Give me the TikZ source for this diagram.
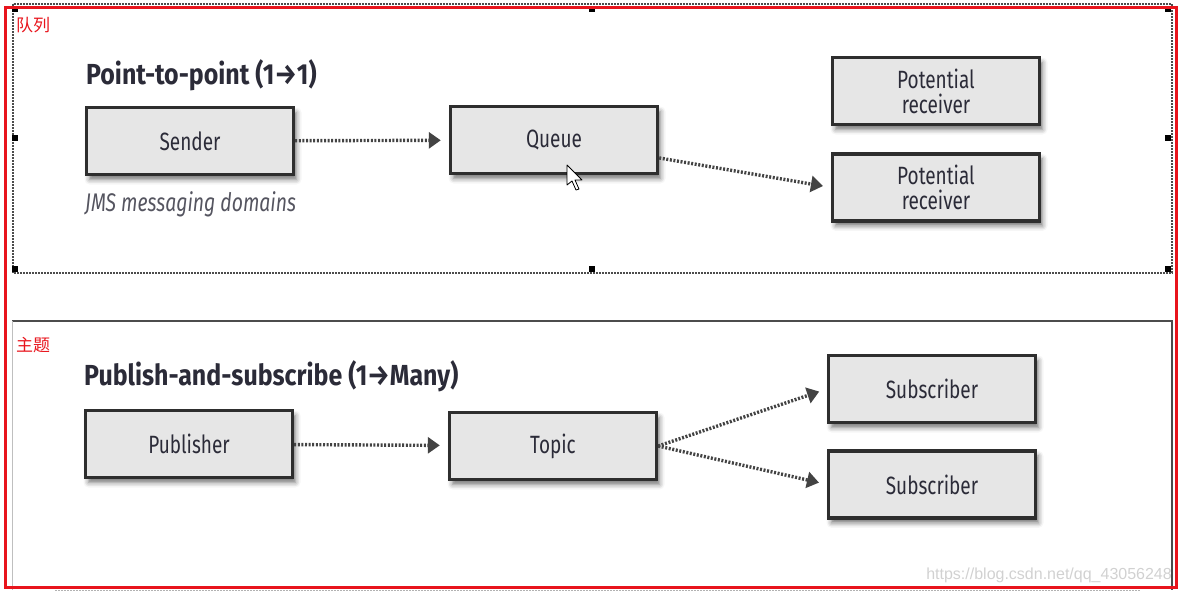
\documentclass[tikz,border=0pt]{standalone}
\usepackage{fontspec}
\setmainfont{Fira Sans}[FakeStretch=0.76]
\newfontfamily\headfont{Fira Sans}[FakeStretch=0.86]
\newfontfamily\cjk{Noto Sans CJK SC}
\newfontfamily\wmfont{Liberation Sans}
\usetikzlibrary{
        arrows.meta,
        positioning,
        shadows.blur
    }
\definecolor{boxfill}{HTML}{E6E6E6}
\definecolor{boxline}{HTML}{2E2E2E}
\definecolor{ink}{HTML}{2B2B38}
\definecolor{marker}{HTML}{E8141C}
\tikzset{>={Triangle[length=12pt,width=16pt]},auto,node distance=2cm}
\tikzset{box/.style={draw=boxline,line width=3.4pt,fill=boxfill,minimum width=207pt,minimum height=67pt,
        text=ink,font=\fontsize{25}{25}\selectfont,align=center,
        blur shadow={shadow xshift=3pt,shadow yshift=-5pt,shadow blur radius=5pt,shadow opacity=55}}}
\tikzset{flow/.style={->,draw=boxline!90,line width=3.4pt,dash pattern=on 2pt off 1.6pt,shorten >=8pt}}
\tikzset{handle/.style={fill=black,minimum size=6pt,inner sep=0pt}}

\begin{document}
\begin{tikzpicture}[x=1pt,y=-1pt]
                \useasboundingbox (0,0) rectangle (1181,592);
                % frames
                \draw[black!70,line width=1.6pt,dash pattern=on 2pt off 1pt] (13,4) rectangle (1172,273);
                \draw[black!70,line width=1.8pt] (12,321) -- (1172,321) -- (1172,590);
                \draw[black!25,line width=1pt] (12,321) -- (12,590);
                \draw[black!30,line width=1pt,dash pattern=on 2pt off 1pt] (55,590) -- (1140,590);
                \foreach \hx/\hy in {15/9,592/9,1168/9,15/138,1168/138,15/269,592/269,1168/269}
                    \node[handle] at (\hx,\hy) {};
                \draw[marker,line width=3pt] (5,7) rectangle (1176,587);
                \node[marker,anchor=north west,inner sep=0pt,font=\cjk\fontsize{17}{17}\selectfont] (tq) at (16,17) {队列};
                \node[marker,anchor=north west,inner sep=0pt,font=\cjk\fontsize{17}{17}\selectfont] (tt) at (16,337) {主题};

                % point-to-point
                \node[anchor=west,inner sep=0pt,text=ink,font=\headfont\bfseries\fontsize{29}{29}\selectfont] (ptp) at (86,75) {Point-to-point (1→1)};
                \node[box] (sender) at (190,141) {Sender};
                \node[box] (queue)  at (554,140) {Queue};
                \node[box] (recv1)  at (936,91)  {Potential\\receiver};
                \node[box] (recv2)  [below=26pt of recv1] {Potential\\receiver};
                \node[anchor=west,inner sep=0pt,text=ink!80,font=\itshape\fontsize{25.5}{25.5}\selectfont] (jms) at (85,204) {JMS messaging domains};
                \path
                    (sender) edge[flow] (queue)
                    (queue)  edge[flow] (recv2.west);
                % mouse pointer
                \draw[black,fill=white,line width=0.8pt,line join=round]
                    (567,165) -- (567,185) -- (572,181) -- (576,190) -- (579,189) -- (575,180) -- (582,180) -- cycle;

                % publish-and-subscribe
                \node[anchor=west,inner sep=0pt,text=ink,font=\headfont\bfseries\fontsize{29}{29}\selectfont] (pas) at (84,376) {Publish-and-subscribe (1→Many)};
                \node[box] (pub)   at (189,444) {Publisher};
                \node[box] (topic) at (553,446) {Topic};
                \node[box] (sub1)  at (932,389) {Subscriber};
                \node[box] (sub2)  [below=25pt of sub1] {Subscriber};
                \path
                    (pub)   edge[flow] (topic)
                    (topic.east) edge[flow] (sub1.west)
                    (topic.east) edge[flow] (sub2.west);

                \node[anchor=east,inner sep=0pt,text=black!18,font=\wmfont\fontsize{16}{16}\selectfont] (wm) at (1172,575) {https://blog.csdn.net/qq\_43056248};
            \end{tikzpicture}
\end{document}
